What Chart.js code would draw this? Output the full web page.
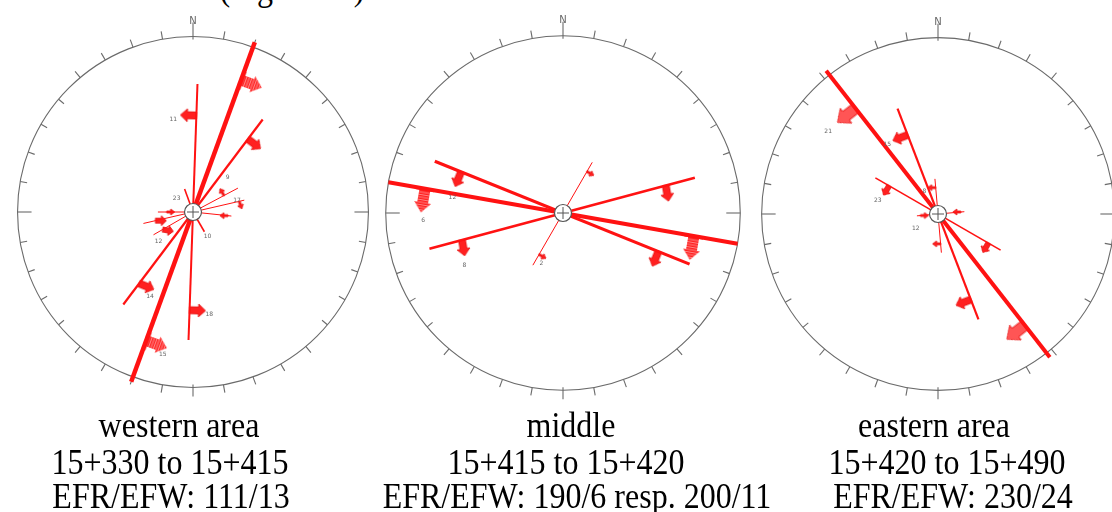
<!DOCTYPE html>
<html lang="en">
<head>
<meta charset="UTF-8">
<title>Fault planes with dip arrows</title>
<script src="https://cdn.jsdelivr.net/npm/chart.js@4.4.1/dist/chart.umd.min.js"></script>
<style>
  html, body { margin: 0; padding: 0; background: #fff; }
  body { width: 1112px; height: 512px; overflow: hidden; position: relative; }
  canvas { position: absolute; }
  .cap {
    position: absolute;
    font-family: 'Liberation Serif', 'Times New Roman', serif;
    font-size: 32px;
    line-height: 1;
    color: #000;
    white-space: nowrap;
    transform-origin: 50% 84%;
    transform: translateX(-50%) scaleY(1.14);
  }
</style>
</head>
<body>
<div class="cap" style="left:292px;top:-27px">(Figure 25)</div>

<canvas id="west" width="396" height="396" style="left:-5px;top:14px"></canvas>
<canvas id="middle" width="400" height="400" style="left:363px;top:13px"></canvas>
<canvas id="east" width="398" height="398" style="left:739px;top:15px"></canvas>

<div class="cap" style="left:179px;top:410px">western area</div>
<div class="cap" style="left:170px;top:447px">15+330 to 15+415</div>
<div class="cap" style="left:171px;top:481px">EFR/EFW: 111/13</div>

<div class="cap" style="left:571px;top:410px">middle</div>
<div class="cap" style="left:566px;top:447px">15+415 to 15+420</div>
<div class="cap" style="left:577px;top:481px">EFR/EFW: 190/6 resp. 200/11</div>

<div class="cap" style="left:934px;top:410px">eastern area</div>
<div class="cap" style="left:947px;top:447px">15+420 to 15+490</div>
<div class="cap" style="left:953px;top:481px">EFR/EFW: 230/24</div>

<script>
// ---- data: strike azimuth (deg), reach of each half (fraction of radius) ----
// western area
const westStrike = [20, 37, 2, 62, 77, 96, 257, 240, 270, 340, 150];
const westReachA = [1.03, 0.66, 0.73, 0.29, 0.30, 0.22, 0.29, 0.26, 0.20, 0.14, 0.13];
const westReachB = [1.03, 0.66, 0.73, 0, 0, 0, 0, 0, 0, 0, 0];
// dip arrows: side of the line they sit on, distance from centre, dip direction
const westArrowOn = [20, 200, 37, 217, 2, 182, 62, 77, 96, 257, 240, 270];
const westArrowAt = [0.80, 0.78, 0.52, 0.51, 0.55, 0.56, 0.20, 0.27, 0.20, 0.22, 0.20, 0.15];
const westArrowDip = [110, 110, 127, 112, 272, 92, 330, 160, 270, 90, 100, 90];
const westLabels = ['11', '9', '23', '12', '10', '14', '18', '15', '17'];
const westLabelAz = [348, 45, 309, 229, 149, 207, 171, 192, 75];
const westLabelR = [0.54, 0.28, 0.12, 0.26, 0.16, 0.54, 0.59, 0.83, 0.26];

// middle
const midStrike = [280, 292, 255, 30];
const midReachA = [1.0, 0.78, 0.78, 0.33];
const midReachB = [1.0, 0.77, 0.77, 0.34];
const midArrowOn = [280, 100, 292, 112, 255, 75, 30, 210];
const midArrowAt = [0.79, 0.75, 0.62, 0.58, 0.59, 0.60, 0.27, 0.27];
const midArrowDip = [190, 190, 202, 202, 170, 170, 120, 120];
const midLabels = ['12', '6', '8', '2'];
const midLabelAz = [278, 267, 242, 203];
const midLabelR = [0.63, 0.79, 0.63, 0.31];

// eastern area
const eastStrike = [322, 339, 300, 355, 85, 265, 175];
const eastReachA = [1.03, 0.64, 0.41, 0.20, 0.15, 0.12, 0.22];
const eastReachB = [1.03, 0.64, 0.41, 0, 0, 0, 0];
const eastArrowOn = [322, 142, 339, 159, 300, 120, 355, 175, 85, 265];
const eastArrowAt = [0.76, 0.80, 0.48, 0.52, 0.32, 0.33, 0.15, 0.17, 0.13, 0.10];
const eastArrowDip = [232, 232, 249, 249, 211, 211, 270, 270, 270, 90];
const eastLabels = ['21', '15', '23', '12', '8'];
const eastLabelAz = [307, 324, 283, 237, 329];
const eastLabelR = [0.78, 0.49, 0.35, 0.15, 0.15];

// ---- styles ----
const RED = '#ff1212';
const westWidth = [4.5, 2.2, 2, 1, 1, 1, 1, 1, 1, 1.6, 1.6];
const westArrowKind = ['big', 'big', 'mid', 'mid', 'mid', 'mid', 'tiny', 'tiny', 'tiny', 'small', 'small', 'tiny'];
const midWidth = [4, 3.2, 2.6, 1];
const midArrowKind = ['hatch', 'hatch', 'mid', 'mid', 'mid', 'mid', 'tiny', 'tiny'];
const eastWidth = [4, 2.2, 1.6, 1, 1, 1, 1];
const eastArrowKind = ['light', 'light', 'mid', 'mid', 'small', 'small', 'tiny', 'tiny', 'tiny', 'tiny'];

const toXY = (az, r) => ({
  x: r * Math.sin(az * Math.PI / 180),
  y: r * Math.cos(az * Math.PI / 180)
});

// arrow drawn from the canvas centre upward, so the point sits on the line
function arrowImage(len, headLen, headW, shaftW, fill, hatch) {
  const c = document.createElement('canvas');
  c.width = Math.ceil(headW) + 2;
  c.height = Math.ceil(len) * 2 + 2;
  const g = c.getContext('2d');
  const cx = c.width / 2, cy = c.height / 2, neck = cy - (len - headLen);
  g.beginPath();
  g.moveTo(cx - shaftW / 2, cy);
  g.lineTo(cx - shaftW / 2, neck);
  g.lineTo(cx - headW / 2, neck);
  g.lineTo(cx, cy - len);
  g.lineTo(cx + headW / 2, neck);
  g.lineTo(cx + shaftW / 2, neck);
  g.lineTo(cx + shaftW / 2, cy);
  g.closePath();
  g.fillStyle = fill;
  g.fill();
  if (hatch) {
    g.save();
    g.clip();
    g.strokeStyle = 'rgba(255,170,170,0.9)';
    g.lineWidth = 0.8;
    for (let i = cy - len; i < cy; i += 2.5) {
      g.beginPath(); g.moveTo(0, i); g.lineTo(c.width, i); g.stroke();
    }
    g.restore();
  }
  g.strokeStyle = '#e41010';
  g.lineWidth = 0.8;
  g.stroke();
  return c;
}

const arrowKinds = {
  big: arrowImage(22, 10, 17, 11, '#ff2a2a', true),
  hatch: arrowImage(24, 10, 17, 11, '#ff2020', true),
  light: arrowImage(23, 11, 19, 11, '#ff5555', false),
  mid: arrowImage(16, 7, 13, 7, '#ff2020', false),
  small: arrowImage(11, 5, 10, 5, '#ff2020', false),
  tiny: arrowImage(8, 4, 6, 2, '#ff2020', false)
};

const frame = {
  id: 'frame',
  beforeDatasetsDraw(chart) {
    const { ctx, scales: { x, y } } = chart;
    const cx = x.getPixelForValue(0), cy = y.getPixelForValue(0);
    const R = x.getPixelForValue(1) - cx;
    ctx.save();
    ctx.strokeStyle = '#6a6a6a';
    ctx.lineWidth = 1.1;
    ctx.beginPath();
    ctx.arc(cx, cy, R, 0, Math.PI * 2);
    ctx.stroke();
    for (let a = 0; a < 360; a += 10) {
      const s = Math.sin(a * Math.PI / 180), c = Math.cos(a * Math.PI / 180);
      let r0 = R - 7, r1 = R;
      if (Math.abs(c) > 0.7) { r0 = R; r1 = R + 8; }
      if (a === 90 || a === 270) { r0 = R - 14; r1 = R; }
      if (a === 0) { r0 = R - 3; r1 = R + 14; }
      if (a === 180) { r0 = R - 3; r1 = R + 9; }
      ctx.beginPath();
      ctx.moveTo(cx + r0 * s, cy - r0 * c);
      ctx.lineTo(cx + r1 * s, cy - r1 * c);
      ctx.stroke();
    }
    ctx.fillStyle = '#666';
    ctx.font = '10px "DejaVu Sans", sans-serif';
    ctx.textAlign = 'center';
    ctx.textBaseline = 'middle';
    ctx.fillText('N', cx, cy - R - 15);
    ctx.restore();
  },
  afterDatasetsDraw(chart) {
    const { ctx, scales: { x, y } } = chart;
    const cx = x.getPixelForValue(0), cy = y.getPixelForValue(0);
    const spec = chart.config.options.plugins.frame;
    ctx.save();
    ctx.fillStyle = '#666';
    ctx.font = '6px "DejaVu Sans", sans-serif';
    ctx.textAlign = 'center';
    ctx.textBaseline = 'middle';
    spec.labels.forEach((t, i) => {
      const p = toXY(spec.labelAz[i], spec.labelR[i]);
      ctx.fillText(t, x.getPixelForValue(p.x), y.getPixelForValue(p.y));
    });
    ctx.beginPath();
    ctx.arc(cx, cy, 8.5, 0, Math.PI * 2);
    ctx.fillStyle = '#fff';
    ctx.fill();
    ctx.strokeStyle = '#555';
    ctx.lineWidth = 1.2;
    ctx.stroke();
    ctx.beginPath();
    ctx.moveTo(cx - 6, cy); ctx.lineTo(cx + 6, cy);
    ctx.moveTo(cx, cy - 6); ctx.lineTo(cx, cy + 6);
    ctx.lineWidth = 1;
    ctx.stroke();
    ctx.restore();
  }
};

function buildPanel(id, p) {
  const datasets = p.strike.map((s, i) => ({
    data: [toXY(s, p.reachA[i]), toXY(s + 180, p.reachB[i])],
    showLine: true,
    borderColor: RED,
    borderWidth: p.width[i],
    borderCapStyle: 'butt',
    pointRadius: 0,
    clip: false
  }));
  p.arrowOn.forEach((az, i) => {
    datasets.push({
      data: [toXY(az, p.arrowAt[i])],
      showLine: false,
      pointStyle: arrowKinds[p.arrowKind[i]],
      pointRadius: 1,
      rotation: p.arrowDip[i],
      clip: false
    });
  });
  new Chart(document.getElementById(id), {
    type: 'scatter',
    data: { datasets },
    options: {
      responsive: false,
      animation: false,
      events: [],
      layout: { padding: 0 },
      scales: {
        x: { type: 'linear', min: -1.1, max: 1.1, display: false },
        y: { type: 'linear', min: -1.1, max: 1.1, display: false }
      },
      plugins: {
        legend: { display: false },
        tooltip: { enabled: false },
        frame: { labels: p.labels, labelAz: p.labelAz, labelR: p.labelR }
      }
    },
    plugins: [frame]
  });
}

buildPanel('west', {
  strike: westStrike, reachA: westReachA, reachB: westReachB, width: westWidth,
  arrowOn: westArrowOn, arrowAt: westArrowAt, arrowDip: westArrowDip, arrowKind: westArrowKind,
  labels: westLabels, labelAz: westLabelAz, labelR: westLabelR
});
buildPanel('middle', {
  strike: midStrike, reachA: midReachA, reachB: midReachB, width: midWidth,
  arrowOn: midArrowOn, arrowAt: midArrowAt, arrowDip: midArrowDip, arrowKind: midArrowKind,
  labels: midLabels, labelAz: midLabelAz, labelR: midLabelR
});
buildPanel('east', {
  strike: eastStrike, reachA: eastReachA, reachB: eastReachB, width: eastWidth,
  arrowOn: eastArrowOn, arrowAt: eastArrowAt, arrowDip: eastArrowDip, arrowKind: eastArrowKind,
  labels: eastLabels, labelAz: eastLabelAz, labelR: eastLabelR
});
</script>
</body>
</html>
